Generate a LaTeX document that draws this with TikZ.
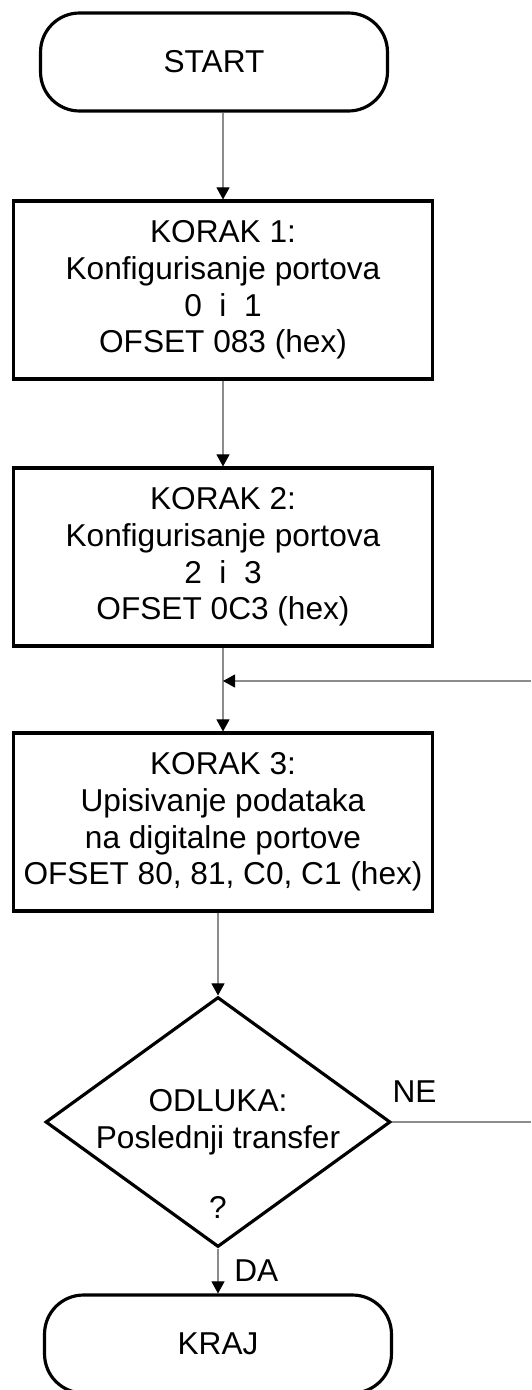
\documentclass[tikz,border=0pt]{standalone}
\usepackage{fontspec}
\setmainfont{Liberation Sans}
\usetikzlibrary{shapes.geometric,arrows.meta}

\begin{document}
\begin{tikzpicture}[x=0.02cm,y=-0.02cm,
	every node/.style={font=\fontsize{18pt}{20.8pt}\selectfont,align=center},
	terminal/.style={shape=rectangle,draw=black,line width=1.8pt,rounded corners=0.78cm,minimum width=6.94cm,minimum height=1.96cm},
	korak/.style={shape=rectangle,draw=black,line width=1.8pt,inner sep=2pt,minimum width=8.38cm,minimum height=3.56cm},
	odluka/.style={shape=diamond,draw=black,line width=1.8pt,aspect=1.38,inner sep=0pt,minimum width=6.9cm,minimum height=5cm},
	linija/.style={draw=black!45,line width=0.6pt},
	tok/.style={linija,-{Triangle[length=0.24cm,width=0.26cm,color=black]}}]
	\useasboundingbox (0,0) rectangle (531,1390);

	\node[terminal] (start) at (214,62) {START};
	\node[korak] (k1) at (223,290) {KORAK 1:\\Konfigurisanje portova\\0\ \ i\ \ 1\\OFSET 083 (hex)};
	\node[korak] (k2) at (223,557) {KORAK 2:\\Konfigurisanje portova\\2\ \ i\ \ 3\\OFSET 0C3 (hex)};
	\node[korak] (k3) at (223,822) {KORAK 3:\\Upisivanje podataka\\na digitalne portove\\OFSET 80, 81, C0, C1 (hex)};
	\node[odluka] (odluka) at (218,1122) {ODLUKA:\\Poslednji transfer};
	\node (upit) at (218,1207) {?};
	\node[terminal] (kraj) at (218,1344) {KRAJ};

	\coordinate (spoj) at (223,681);
	\coordinate (povratak) at (531,681);
	\coordinate (izlaz) at (531,1122);

	\draw [tok](start.south -| k1.north) -- (k1.north);
	\draw [tok](k1) -- (k2);
	\draw [linija](k2) -- (spoj);
	\draw [tok](spoj) -- (k3);
	\draw [tok](povratak) -- (spoj);
	\draw [tok](k3.south -| odluka.north) -- (odluka.north);
	\draw [tok](odluka) -- node[right=0.2cm] {DA} (kraj);
	\draw [linija](odluka.east) -- node[pos=0,anchor=south west,inner sep=0pt,yshift=0.38cm] {NE} (izlaz);
\end{tikzpicture}
\end{document}
